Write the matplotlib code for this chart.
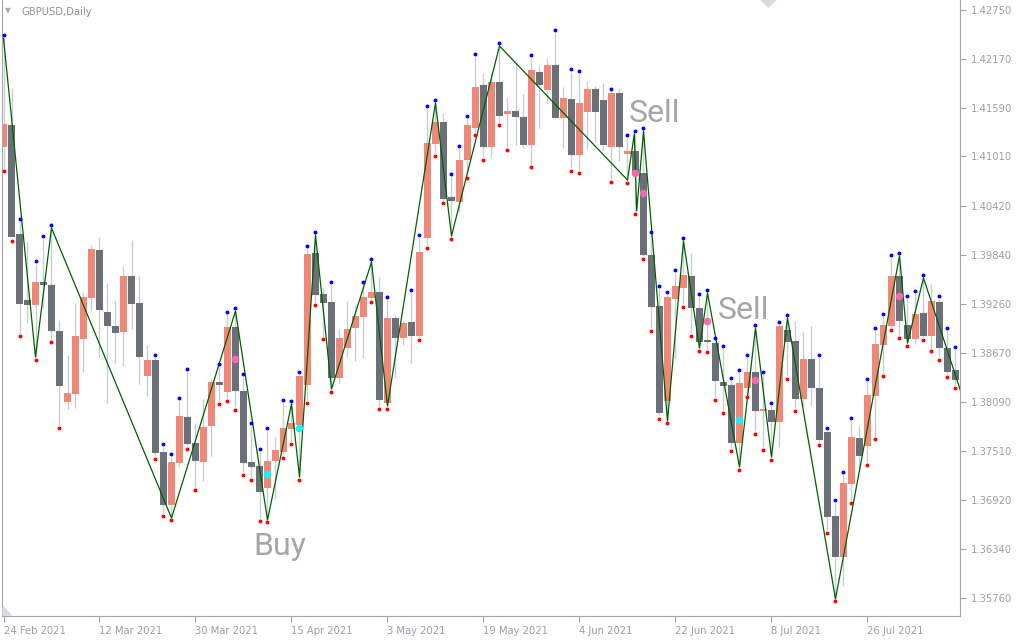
import numpy as np
import matplotlib
matplotlib.use("Agg")
import matplotlib.pyplot as plt
from matplotlib.patches import Polygon

# GBPUSD daily candles, bar 0 = 24 Feb 2021
opens = [1.41122, 1.41383, 1.40087, 1.39302, 1.39243, 1.39516, 1.39481, 1.38934, 1.38090, 1.38185,
         1.38839, 1.39326, 1.39897, 1.39160, 1.38994, 1.38922, 1.39588, 1.39266, 1.38399, 1.38589,
         1.37495, 1.36866, 1.37364, 1.37912, 1.37602, 1.37376, 1.37805, 1.38327, 1.38209, 1.38982,
         1.38221, 1.37376, 1.37329, 1.37068, 1.37388, 1.37495, 1.37769, 1.37817, 1.38292, 1.39861,
         1.39373, 1.39278, 1.38375, 1.38732, 1.38970, 1.39101, 1.39326, 1.39397, 1.38078, 1.39089,
         1.38851, 1.39041, 1.38875, 1.40040, 1.41157, 1.41418, 1.40527, 1.40467, 1.40967, 1.41347,
         1.41859, 1.41122, 1.41894, 1.41513, 1.41549, 1.41478, 1.41146, 1.42013, 1.41799, 1.42097,
         1.41466, 1.41692, 1.41027, 1.41537, 1.41811, 1.41680, 1.41122, 1.41763, 1.41038, 1.41074,
         1.40812, 1.39838, 1.39231, 1.38102, 1.39314, 1.39445, 1.39588, 1.39207, 1.38827, 1.38791,
         1.38327, 1.38292, 1.37602, 1.38256, 1.38446, 1.37983, 1.37995, 1.37852, 1.38946, 1.38815,
         1.38126, 1.38601, 1.38256, 1.37733, 1.36735, 1.36248, 1.37115, 1.37662, 1.37567, 1.38162,
         1.38768, 1.38994, 1.39588, 1.39006, 1.38839, 1.39148, 1.38875, 1.39278, 1.38732, 1.38470]
highs = [1.42417, 1.41823, 1.40230, 1.39992, 1.39730, 1.40028, 1.40159, 1.39065, 1.38649, 1.39266,
         1.39385, 1.39957, 1.40052, 1.39504, 1.39302, 1.39707, 1.40016, 1.39588, 1.38768, 1.38613,
         1.37555, 1.37436, 1.38102, 1.38446, 1.37840, 1.38126, 1.38363, 1.38506, 1.39125, 1.39172,
         1.38387, 1.37805, 1.37495, 1.37745, 1.37674, 1.38078, 1.38066, 1.38410, 1.39909, 1.40076,
         1.39457, 1.39481, 1.38958, 1.39290, 1.39243, 1.39481, 1.39754, 1.39576, 1.39302, 1.39125,
         1.39053, 1.39385, 1.40040, 1.41573, 1.41644, 1.41525, 1.40765, 1.41098, 1.41454, 1.42192,
         1.42001, 1.42001, 1.42322, 1.41716, 1.42120, 1.41751, 1.42180, 1.42085, 1.42180, 1.42476,
         1.41835, 1.42013, 1.41989, 1.41906, 1.41847, 1.41882, 1.41775, 1.41823, 1.41229, 1.41276,
         1.41312, 1.40076, 1.39433, 1.39362, 1.39623, 1.40004, 1.39861, 1.39338, 1.39385, 1.38810,
         1.38720, 1.38339, 1.38434, 1.38613, 1.38970, 1.38411, 1.38043, 1.39006, 1.39089, 1.39053,
         1.38922, 1.38994, 1.38613, 1.37745, 1.36889, 1.37223, 1.37864, 1.37805, 1.38327, 1.38934,
         1.39101, 1.39802, 1.39826, 1.39314, 1.39373, 1.39564, 1.39492, 1.39314, 1.38934, 1.38708]
lows = [1.40872, 1.40040, 1.38910, 1.39029, 1.38625, 1.39207, 1.38839, 1.37817, 1.38007, 1.38019,
        1.38446, 1.39172, 1.38625, 1.38078, 1.38553, 1.38518, 1.38958, 1.38303, 1.38162, 1.37448,
        1.36770, 1.36723, 1.37317, 1.37567, 1.37080, 1.37151, 1.37448, 1.38102, 1.38138, 1.38031,
        1.37258, 1.37199, 1.36711, 1.36699, 1.36937, 1.37460, 1.37626, 1.37199, 1.38114, 1.39278,
        1.38875, 1.38244, 1.38315, 1.38625, 1.38577, 1.38613, 1.39314, 1.38043, 1.38043, 1.38375,
        1.38768, 1.38553, 1.38863, 1.39957, 1.41050, 1.40491, 1.40064, 1.40349, 1.40789, 1.41300,
        1.41003, 1.41003, 1.41418, 1.41122, 1.41146, 1.41110, 1.40919, 1.41347, 1.41644, 1.41454,
        1.41110, 1.40872, 1.40848, 1.41098, 1.41193, 1.41086, 1.40741, 1.40955, 1.40729, 1.40361,
        1.39826, 1.38970, 1.37924, 1.37876, 1.38601, 1.39254, 1.38910, 1.38732, 1.38720, 1.38150,
        1.37995, 1.37543, 1.37317, 1.38185, 1.37745, 1.37555, 1.37436, 1.37555, 1.38399, 1.38019,
        1.38043, 1.38043, 1.37614, 1.36568, 1.35760, 1.35903, 1.36925, 1.37282, 1.37376, 1.37686,
        1.38434, 1.38982, 1.38887, 1.38791, 1.38779, 1.38863, 1.38732, 1.38625, 1.38422, 1.38292]
closes = [1.41394, 1.40052, 1.39254, 1.39243, 1.39516, 1.39481, 1.38934, 1.38280, 1.38197, 1.38875,
          1.39338, 1.39909, 1.39184, 1.38994, 1.38910, 1.39588, 1.39254, 1.38625, 1.38589, 1.37483,
          1.36866, 1.37376, 1.37924, 1.37590, 1.37388, 1.37793, 1.38327, 1.38292, 1.38982, 1.38221,
          1.37364, 1.37317, 1.37020, 1.37388, 1.37519, 1.37781, 1.37840, 1.38399, 1.39849, 1.39362,
          1.39266, 1.38375, 1.38851, 1.38958, 1.39113, 1.39338, 1.39397, 1.38114, 1.39089, 1.38851,
          1.39029, 1.38875, 1.39873, 1.41169, 1.41418, 1.40503, 1.40479, 1.40967, 1.41383, 1.41835,
          1.41122, 1.41894, 1.41490, 1.41549, 1.41478, 1.41146, 1.42037, 1.41859, 1.42097, 1.41466,
          1.41704, 1.41027, 1.41644, 1.41811, 1.41537, 1.41146, 1.41763, 1.41122, 1.41074, 1.40812,
          1.39838, 1.39219, 1.37959, 1.39338, 1.39469, 1.39600, 1.39207, 1.38803, 1.38803, 1.38339,
          1.38280, 1.37602, 1.38315, 1.38446, 1.37983, 1.37995, 1.37852, 1.38994, 1.38803, 1.38126,
          1.38601, 1.38256, 1.37638, 1.36723, 1.36248, 1.37127, 1.37674, 1.37448, 1.38174, 1.38779,
          1.39006, 1.39588, 1.39053, 1.38839, 1.39136, 1.38875, 1.39290, 1.38732, 1.38446, 1.38351]

tick_bars = [0, 12, 24, 36, 48, 60, 72, 84, 96, 108]
tick_labels = ["24 Feb 2021", "12 Mar 2021", "30 Mar 2021", "15 Apr 2021", "3 May 2021",
               "19 May 2021", "4 Jun 2021", "22 Jun 2021", "8 Jul 2021", "26 Jul 2021"]
price_ticks = [1.42750, 1.42170, 1.41590, 1.41010, 1.40420, 1.39840, 1.39260,
               1.38670, 1.38090, 1.37510, 1.36920, 1.36340, 1.35760]

# bars that carry the small blue (above high) / red (below low) dots
blue_idx = [0, 2, 4, 5, 6, 19, 20, 21, 22, 23, 27, 28, 29, 30, 31, 32, 33, 35, 36, 37, 38, 39, 41,
            45, 46, 48, 51, 52, 53, 54, 56, 57, 58, 59, 62, 66, 69, 71, 72, 76, 78, 79, 80, 81, 82,
            83, 84, 85, 87, 88, 89, 90, 91, 92, 93, 94, 95, 96, 97, 98, 102, 103, 104, 105, 106,
            108, 109, 110, 111, 112, 113, 114, 115, 117, 118, 119]
red_idx = [0, 1, 2, 4, 6, 7, 19, 20, 21, 23, 24, 27, 28, 29, 30, 31, 32, 33, 35, 36, 37, 38, 39, 40,
           41, 46, 47, 48, 52, 53, 54, 55, 56, 58, 59, 60, 62, 63, 66, 71, 72, 76, 78, 79, 80, 81,
           82, 83, 85, 86, 87, 88, 89, 90, 91, 92, 93, 94, 95, 96, 98, 99, 102, 103, 104, 106, 108,
           109, 110, 111, 112, 113, 115, 116, 117, 118, 119]

# zigzag
zz_bars = [0, 4, 6, 21, 29, 33, 36, 37, 39, 41, 46, 48, 54, 56, 62, 78, 78.85, 79.15, 80, 83,
           85, 87, 88, 92, 94, 96, 98, 104, 112, 113, 115, 119.6]
zz_prices = [1.42417, 1.38625, 1.40159, 1.36711, 1.39172, 1.36687, 1.38066, 1.37199, 1.40076,
             1.38244, 1.39754, 1.38043, 1.41644, 1.40064, 1.42322, 1.40729, 1.41276, 1.40361,
             1.41312, 1.37864, 1.40004, 1.38732, 1.39385, 1.37317, 1.38970, 1.37436, 1.39089,
             1.35748, 1.39826, 1.38791, 1.39564, 1.38233]

sell_bars = [29, 79, 80, 88, 94, 112]
sell_prices = [1.38602, 1.40816, 1.40578, 1.39057, 1.38351, 1.39350]
buy_bars = [33, 37, 92]
buy_prices = [1.37234, 1.37781, 1.37880]

notes = ["Sell", "Sell", "Buy"]
note_bars = [78.1, 89.3, 31.2]
note_prices = [1.41525, 1.39172, 1.36378]

up_col = '#ef8878'
dn_col = '#6b6f78'
wick_col = '#cacdd5'
txt_col = '#9a9fac'
frame_col = '#a4a7b0'

o = np.array(opens)
h = np.array(highs)
l = np.array(lows)
c = np.array(closes)
x = np.arange(len(o))
up = c >= o

fig = plt.figure(figsize=(10.24, 6.4), dpi=100)
fig.patch.set_facecolor('white')
ax = fig.add_axes([2/1024, 24/640, 958/1024, 616/640])

ax.vlines(x, l, h, color=wick_col, lw=1.0, zorder=1)
body_lo = np.minimum(o, c)
body_h = np.maximum(np.abs(c - o), 0.0002)
ax.bar(x, body_h, bottom=body_lo, width=0.86, color=np.where(up, up_col, dn_col),
       linewidth=0, zorder=2)

ax.plot(zz_bars, zz_prices, color='#006000', lw=0.9, zorder=3)

gap = 0.00035
ax.scatter(blue_idx, h[blue_idx] + gap, s=8, color='#0000ff', linewidths=0, zorder=4)
ax.scatter(red_idx, l[red_idx] - gap, s=8, color='#ff0000', linewidths=0, zorder=4)
ax.scatter(sell_bars, sell_prices, s=30, color='#f46aae', linewidths=0, zorder=5)
ax.scatter(buy_bars, buy_prices, s=30, color='#19f0f0', linewidths=0, zorder=5)

for t, bx, py in zip(notes, note_bars, note_prices):
    ax.text(bx, py, t, fontsize=23, color='#a6a6a8', ha='left', va='center',
            family='Roboto', zorder=6)

ax.set_xlim(-0.1875, 119.5625)
ax.set_ylim(1.35546, 1.42869)

ax.yaxis.tick_right()
ax.set_yticks(price_ticks)
ax.set_yticklabels([f"{v:.5f}" for v in price_ticks])
ax.set_xticks(tick_bars)
ax.set_xticklabels(tick_labels)
for lbl in ax.get_xticklabels():
    lbl.set_horizontalalignment('left')
ax.tick_params(axis='both', length=4, color=frame_col, labelcolor=txt_col, labelsize=7.2)
ax.tick_params(axis='y', pad=4)
ax.tick_params(axis='x', pad=3)

for s in ['left', 'bottom', 'right']:
    ax.spines[s].set_color(frame_col)
ax.spines['top'].set_visible(False)

fig.text(22/1024, 1 - 12/640, "GBPUSD,Daily", fontsize=7.2, color='#8e93a0', va='center')
fig.text(5/1024, 1 - 11/640, "\u25bc", fontsize=5.5, color='#a8acb8', va='center')

# chart-shift marker on top and corner mark at bottom left
fig.patches.append(Polygon([(761/1024, 1.0), (776/1024, 1.0), (768.5/1024, 1 - 7/640)],
                           closed=True, transform=fig.transFigure, color='#d9dbe2'))
fig.patches.append(Polygon([(3/1024, 25/640), (11/1024, 25/640), (3/1024, 33/640)],
                           closed=True, transform=fig.transFigure, color='#d6d8e4'))

fig.savefig("out.png", dpi=100)
